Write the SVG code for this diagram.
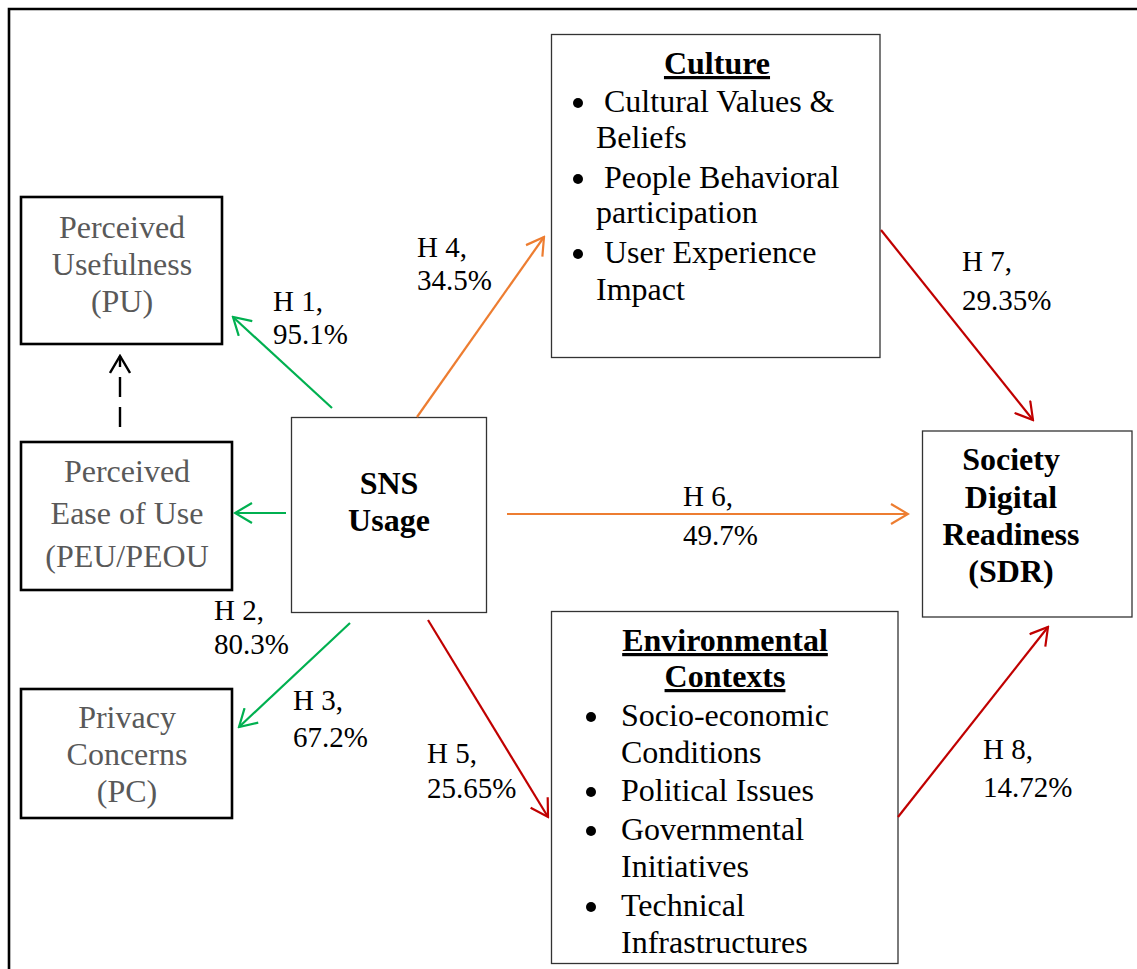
<svg xmlns="http://www.w3.org/2000/svg" width="1137" height="969" viewBox="0 0 1137 969">
  <style>
    .t { font-family: "Liberation Serif", "Times New Roman", serif; font-size: 32px; fill: #000; }
    .g { fill: #595959; }
    .b { font-weight: bold; }
    .u { text-decoration: underline; }
    .m { text-anchor: middle; }
    .lbl { font-family: "Liberation Serif", "Times New Roman", serif; font-size: 29px; fill: #000; }
    .box { fill: #fff; stroke: #000; }
    .thick { stroke-width: 2.6; }
    .thin { stroke: #333; stroke-width: 1.3; }
    .c { fill: none; stroke-width: 2.2; }
    .green { stroke: #00B050; }
    .orange { stroke: #ED7D31; }
    .red { stroke: #C00000; }
    .dash { stroke: #000; stroke-width: 2.4; stroke-dasharray: 20 10; }
    .dot { fill: #000; }
  </style>
  <defs>
    <marker id="ah-green" markerUnits="userSpaceOnUse" viewBox="0 0 20 22" refX="18" refY="11" markerWidth="20" markerHeight="22" orient="auto">
      <path d="M1,1 L18,11 L1,21" fill="none" stroke="#00B050" stroke-width="2.2"/>
    </marker>
    <marker id="ah-orange" markerUnits="userSpaceOnUse" viewBox="0 0 20 22" refX="18" refY="11" markerWidth="20" markerHeight="22" orient="auto">
      <path d="M1,1 L18,11 L1,21" fill="none" stroke="#ED7D31" stroke-width="2.2"/>
    </marker>
    <marker id="ah-red" markerUnits="userSpaceOnUse" viewBox="0 0 20 22" refX="18" refY="11" markerWidth="20" markerHeight="22" orient="auto">
      <path d="M1,1 L18,11 L1,21" fill="none" stroke="#C00000" stroke-width="2.2"/>
    </marker>
    <marker id="ah-black" markerUnits="userSpaceOnUse" viewBox="0 0 20 22" refX="18" refY="11" markerWidth="20" markerHeight="22" orient="auto">
      <path d="M1,1 L18,11 L1,21" fill="none" stroke="#000" stroke-width="2.4"/>
    </marker>
  </defs>

  <rect width="1137" height="969" fill="#fff"/>

  <!-- outer frame (top and left edges) -->
  <path d="M9,969 L9,9 L1137,9" fill="none" stroke="#000" stroke-width="2.6"/>

  <!-- nodes -->
  <g id="node-pu">
    <rect class="box thick" x="21" y="197" width="201" height="147"/>
    <text class="t g m" x="122" y="238">Perceived</text>
    <text class="t g m" x="122" y="275">Usefulness</text>
    <text class="t g m" x="122" y="312">(PU)</text>
  </g>

  <g id="node-peu">
    <rect class="box thick" x="21" y="442" width="211" height="148"/>
    <text class="t g m" x="127" y="482">Perceived</text>
    <text class="t g m" x="127" y="524">Ease of Use</text>
    <text class="t g m" x="127" y="567">(PEU/PEOU</text>
  </g>

  <g id="node-pc">
    <rect class="box thick" x="21" y="689" width="211" height="129"/>
    <text class="t g m" x="127" y="728">Privacy</text>
    <text class="t g m" x="127" y="765">Concerns</text>
    <text class="t g m" x="127" y="802">(PC)</text>
  </g>

  <g id="node-sns">
    <rect class="box thin" x="291.5" y="417.5" width="195" height="195"/>
    <text class="t b m" x="389" y="494">SNS</text>
    <text class="t b m" x="389" y="531">Usage</text>
  </g>

  <g id="node-culture">
    <rect class="box thin" x="551.5" y="34.5" width="328.5" height="323"/>
    <text class="t b u m" x="717" y="74">Culture</text>
    <circle class="dot" cx="578" cy="103" r="5"/>
    <circle class="dot" cx="578" cy="179" r="5"/>
    <circle class="dot" cx="578" cy="254" r="5"/>
    <text class="t" x="604" y="112">Cultural Values &amp;</text>
    <text class="t" x="596" y="148">Beliefs</text>
    <text class="t" x="604" y="188">People Behavioral</text>
    <text class="t" x="596" y="223">participation</text>
    <text class="t" x="604" y="263">User Experience</text>
    <text class="t" x="596" y="300">Impact</text>
  </g>

  <g id="node-sdr">
    <rect class="box thin" x="922.5" y="431" width="209.5" height="186" stroke-width="1.8"/>
    <text class="t b m" x="1011" y="470">Society</text>
    <text class="t b m" x="1011" y="508">Digital</text>
    <text class="t b m" x="1011" y="545">Readiness</text>
    <text class="t b m" x="1011" y="582">(SDR)</text>
  </g>

  <g id="node-env">
    <rect class="box thin" x="551.5" y="611.5" width="346.5" height="352"/>
    <text class="t b u m" x="725" y="651">Environmental</text>
    <text class="t b u m" x="725" y="687">Contexts</text>
    <circle class="dot" cx="591" cy="717" r="5"/>
    <circle class="dot" cx="591" cy="792" r="5"/>
    <circle class="dot" cx="591" cy="831" r="5"/>
    <circle class="dot" cx="591" cy="907" r="5"/>
    <text class="t" x="621" y="726">Socio-economic</text>
    <text class="t" x="621" y="763">Conditions</text>
    <text class="t" x="621" y="801">Political Issues</text>
    <text class="t" x="621" y="840">Governmental</text>
    <text class="t" x="621" y="877">Initiatives</text>
    <text class="t" x="621" y="916">Technical</text>
    <text class="t" x="621" y="953">Infrastructures</text>
  </g>

  <!-- connectors -->
  <g id="connectors">
    <path class="c dash" d="M120,427 L120,356" marker-end="url(#ah-black)"/>
    <path class="c green" d="M332,408 L233,317" marker-end="url(#ah-green)"/>
    <path class="c green" d="M286,513 L235,513" marker-end="url(#ah-green)"/>
    <path class="c green" d="M350,623 L239,727" marker-end="url(#ah-green)"/>
    <path class="c orange" d="M417,417 L544,237" marker-end="url(#ah-orange)"/>
    <path class="c orange" d="M507,514 L908,514" marker-end="url(#ah-orange)"/>
    <path class="c red" d="M428,620 L548,817" marker-end="url(#ah-red)"/>
    <path class="c red" d="M881,230 L1033,420" marker-end="url(#ah-red)"/>
    <path class="c red" d="M898,817 L1048,627" marker-end="url(#ah-red)"/>
  </g>

  <!-- connector labels -->
  <g id="labels">
    <text class="lbl" x="273" y="311">H 1,</text>
    <text class="lbl" x="273" y="344">95.1%</text>
    <text class="lbl" x="214" y="620">H 2,</text>
    <text class="lbl" x="214" y="654">80.3%</text>
    <text class="lbl" x="293" y="710">H 3,</text>
    <text class="lbl" x="293" y="747">67.2%</text>
    <text class="lbl" x="417" y="257">H 4,</text>
    <text class="lbl" x="417" y="290">34.5%</text>
    <text class="lbl" x="427" y="763">H 5,</text>
    <text class="lbl" x="427" y="798">25.65%</text>
    <text class="lbl" x="683" y="506">H 6,</text>
    <text class="lbl" x="683" y="545">49.7%</text>
    <text class="lbl" x="962" y="271">H 7,</text>
    <text class="lbl" x="962" y="310">29.35%</text>
    <text class="lbl" x="983" y="759">H 8,</text>
    <text class="lbl" x="983" y="797">14.72%</text>
  </g>
</svg>
